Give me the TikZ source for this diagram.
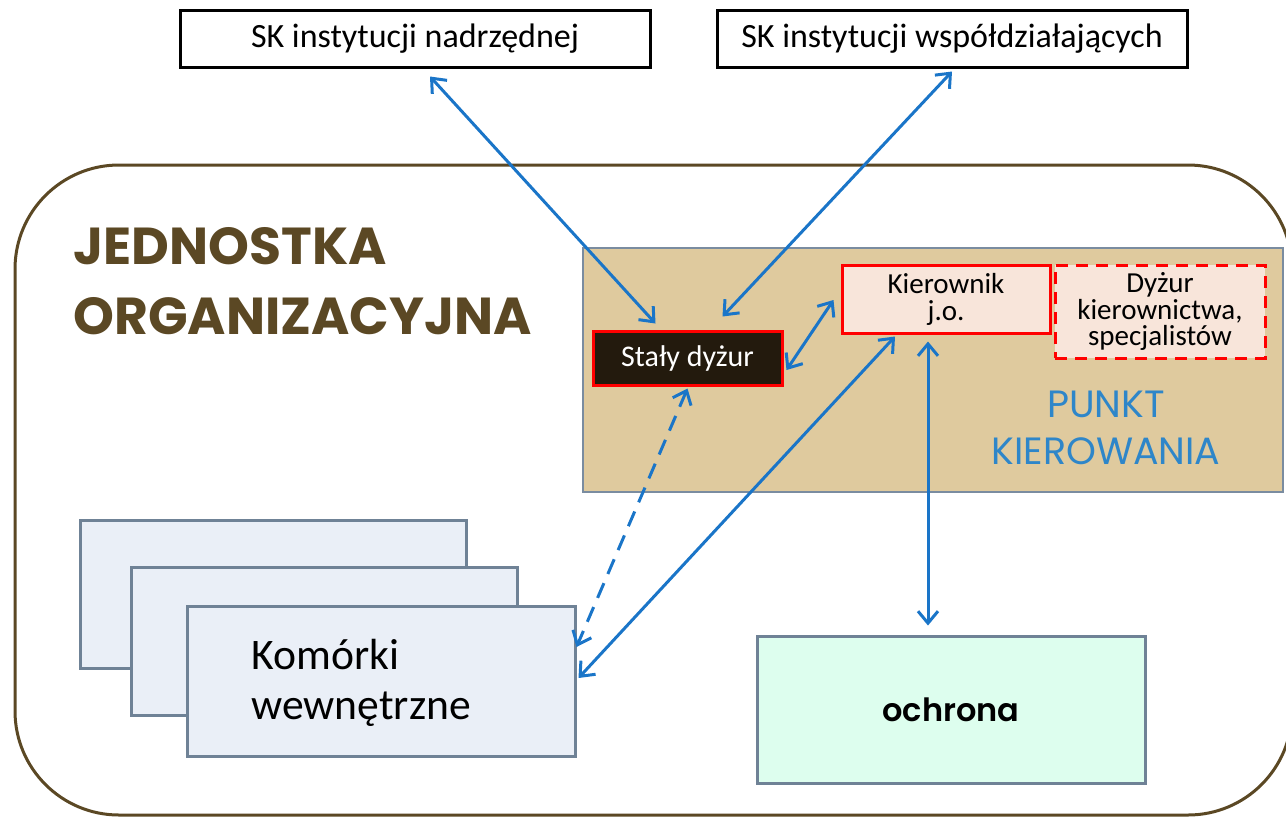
\documentclass[tikz,border=0pt]{standalone}
\usepackage{fontspec}
\setmainfont{Carlito}
\newfontfamily\geo{Poppins}
\newfontfamily\geob{Poppins Bold}
\newfontfamily\geosb{Poppins SemiBold}
\usetikzlibrary{arrows.meta,calc}
\definecolor{arrowblue}{HTML}{1A75C8}
\definecolor{punktblue}{HTML}{2E86C9}
\definecolor{tan}{HTML}{DFCA9E}
\definecolor{punktborder}{HTML}{7A8CA0}
\definecolor{komfill}{HTML}{EAEFF7}
\definecolor{komborder}{HTML}{6F8296}
\definecolor{ochfill}{HTML}{DDFEEE}
\definecolor{outerbrown}{HTML}{5B4824}
\definecolor{stalfill}{HTML}{231A0D}
\definecolor{kierfill}{HTML}{F8E5DA}
\tikzset{
  skbox/.style={draw=black, line width=1.5pt, fill=white, minimum width=235pt, minimum height=28.5pt, inner sep=0pt, font=\fontsize{17}{20}\selectfont},
  kombox/.style={draw=komborder, line width=1.5pt, fill=komfill, minimum width=193pt, minimum height=74pt, inner sep=0pt},
  redbox/.style={draw=red, line width=1.5pt, inner sep=0pt, align=center},
  link/.style={draw=arrowblue, line width=1.5pt, {Straight Barb[length=6pt,width=10pt]}-{Straight Barb[length=6pt,width=10pt]}},
}
\begin{document}
\begin{tikzpicture}[x=0.5pt,y=-0.5pt]
\useasboundingbox (0,0) rectangle (1286,816);
\begin{scope}
\clip (0,0) rectangle (1286,816);
\draw[outerbrown, line width=1.5pt, rounded corners=52pt] (15,165) rectangle (1292,815);
\end{scope}
% top boxes
\node[skbox] (sk1) at (415,38.5) {SK instytucji nadrzędnej};
\node[skbox] (sk2) at (952,38.5) {SK instytucji współdziałających};
% title
\node[anchor=west, text=outerbrown, font=\geob\fontsize{26}{35}\selectfont, align=left, inner sep=0pt] (title) at (73,281) {JEDNOSTKA\\ORGANIZACYJNA};
% punkt kierowania
\node[draw=punktborder, line width=1.3pt, fill=tan, minimum width=350pt, minimum height=122pt, inner sep=0pt] (punkt) at (933,370) {};
\node[text=punktblue, font=\geo\fontsize{19}{23.5}\selectfont, align=center, inner sep=0pt] (punktlbl) at (1106,428) {PUNKT\\KIEROWANIA};
\node[redbox, fill=stalfill, text=white, minimum width=94.5pt, minimum height=27pt, font=\fontsize{15}{17}\selectfont] (stal) at (687.5,358) {Stały dyżur};
\node[redbox, fill=kierfill, minimum width=104pt, minimum height=34pt, font=\fontsize{14.5}{13.5}\selectfont] (kier) at (946,299) {Kierownik\\j.o.};
\node[redbox, dashed, dash pattern=on 6pt off 4pt, fill=kierfill, minimum width=105pt, minimum height=46.5pt, font=\fontsize{14.5}{13.2}\selectfont] (dyz) at (1160,311.5) {Dyżur\\kierownictwa,\\specjalistów};
% komorki
\node[kombox] (kom3) at (273,594) {};
\node[kombox] (kom2) at (324,641) {};
\node[kombox, minimum width=194pt, minimum height=75pt] (kom) at (381,681) {};
\node[anchor=west, align=left, inner sep=0pt, font=\fontsize{21.8}{25}\selectfont] (komlbl) at (251,683) {Komórki\\wewnętrzne};
% ochrona
\node[draw=komborder, line width=1.5pt, fill=ochfill, minimum width=194pt, minimum height=73.5pt, inner sep=0pt, font=\geosb\fontsize{16}{18}\selectfont] (och) at (951,709.5) {ochrona};
% connectors
\draw[link] ($(sk1.south)+(15,8)$) -- ($(stal.north)+(-32,-6)$);
\draw[link] ($(sk2.south)+(0,3)$) -- ($(stal.north)+(35,-13)$);
\draw[link] ($(stal.east)+(3,12)$) -- ($(kier.west)+(-7,1)$);
\draw[link] ($(kier.south)+(-51,2)$) -- ($(kom.east)+(2,-3)$);
\draw[link] ($(kier.south)+(-18,7)$) -- ($(och.north)+(-23,-9)$);
\draw[link, dash pattern=on 8pt off 5pt] ($(stal.south)+(0,2)$) -- ($(kom.east)+(0,-34)$);
\end{tikzpicture}
\end{document}
